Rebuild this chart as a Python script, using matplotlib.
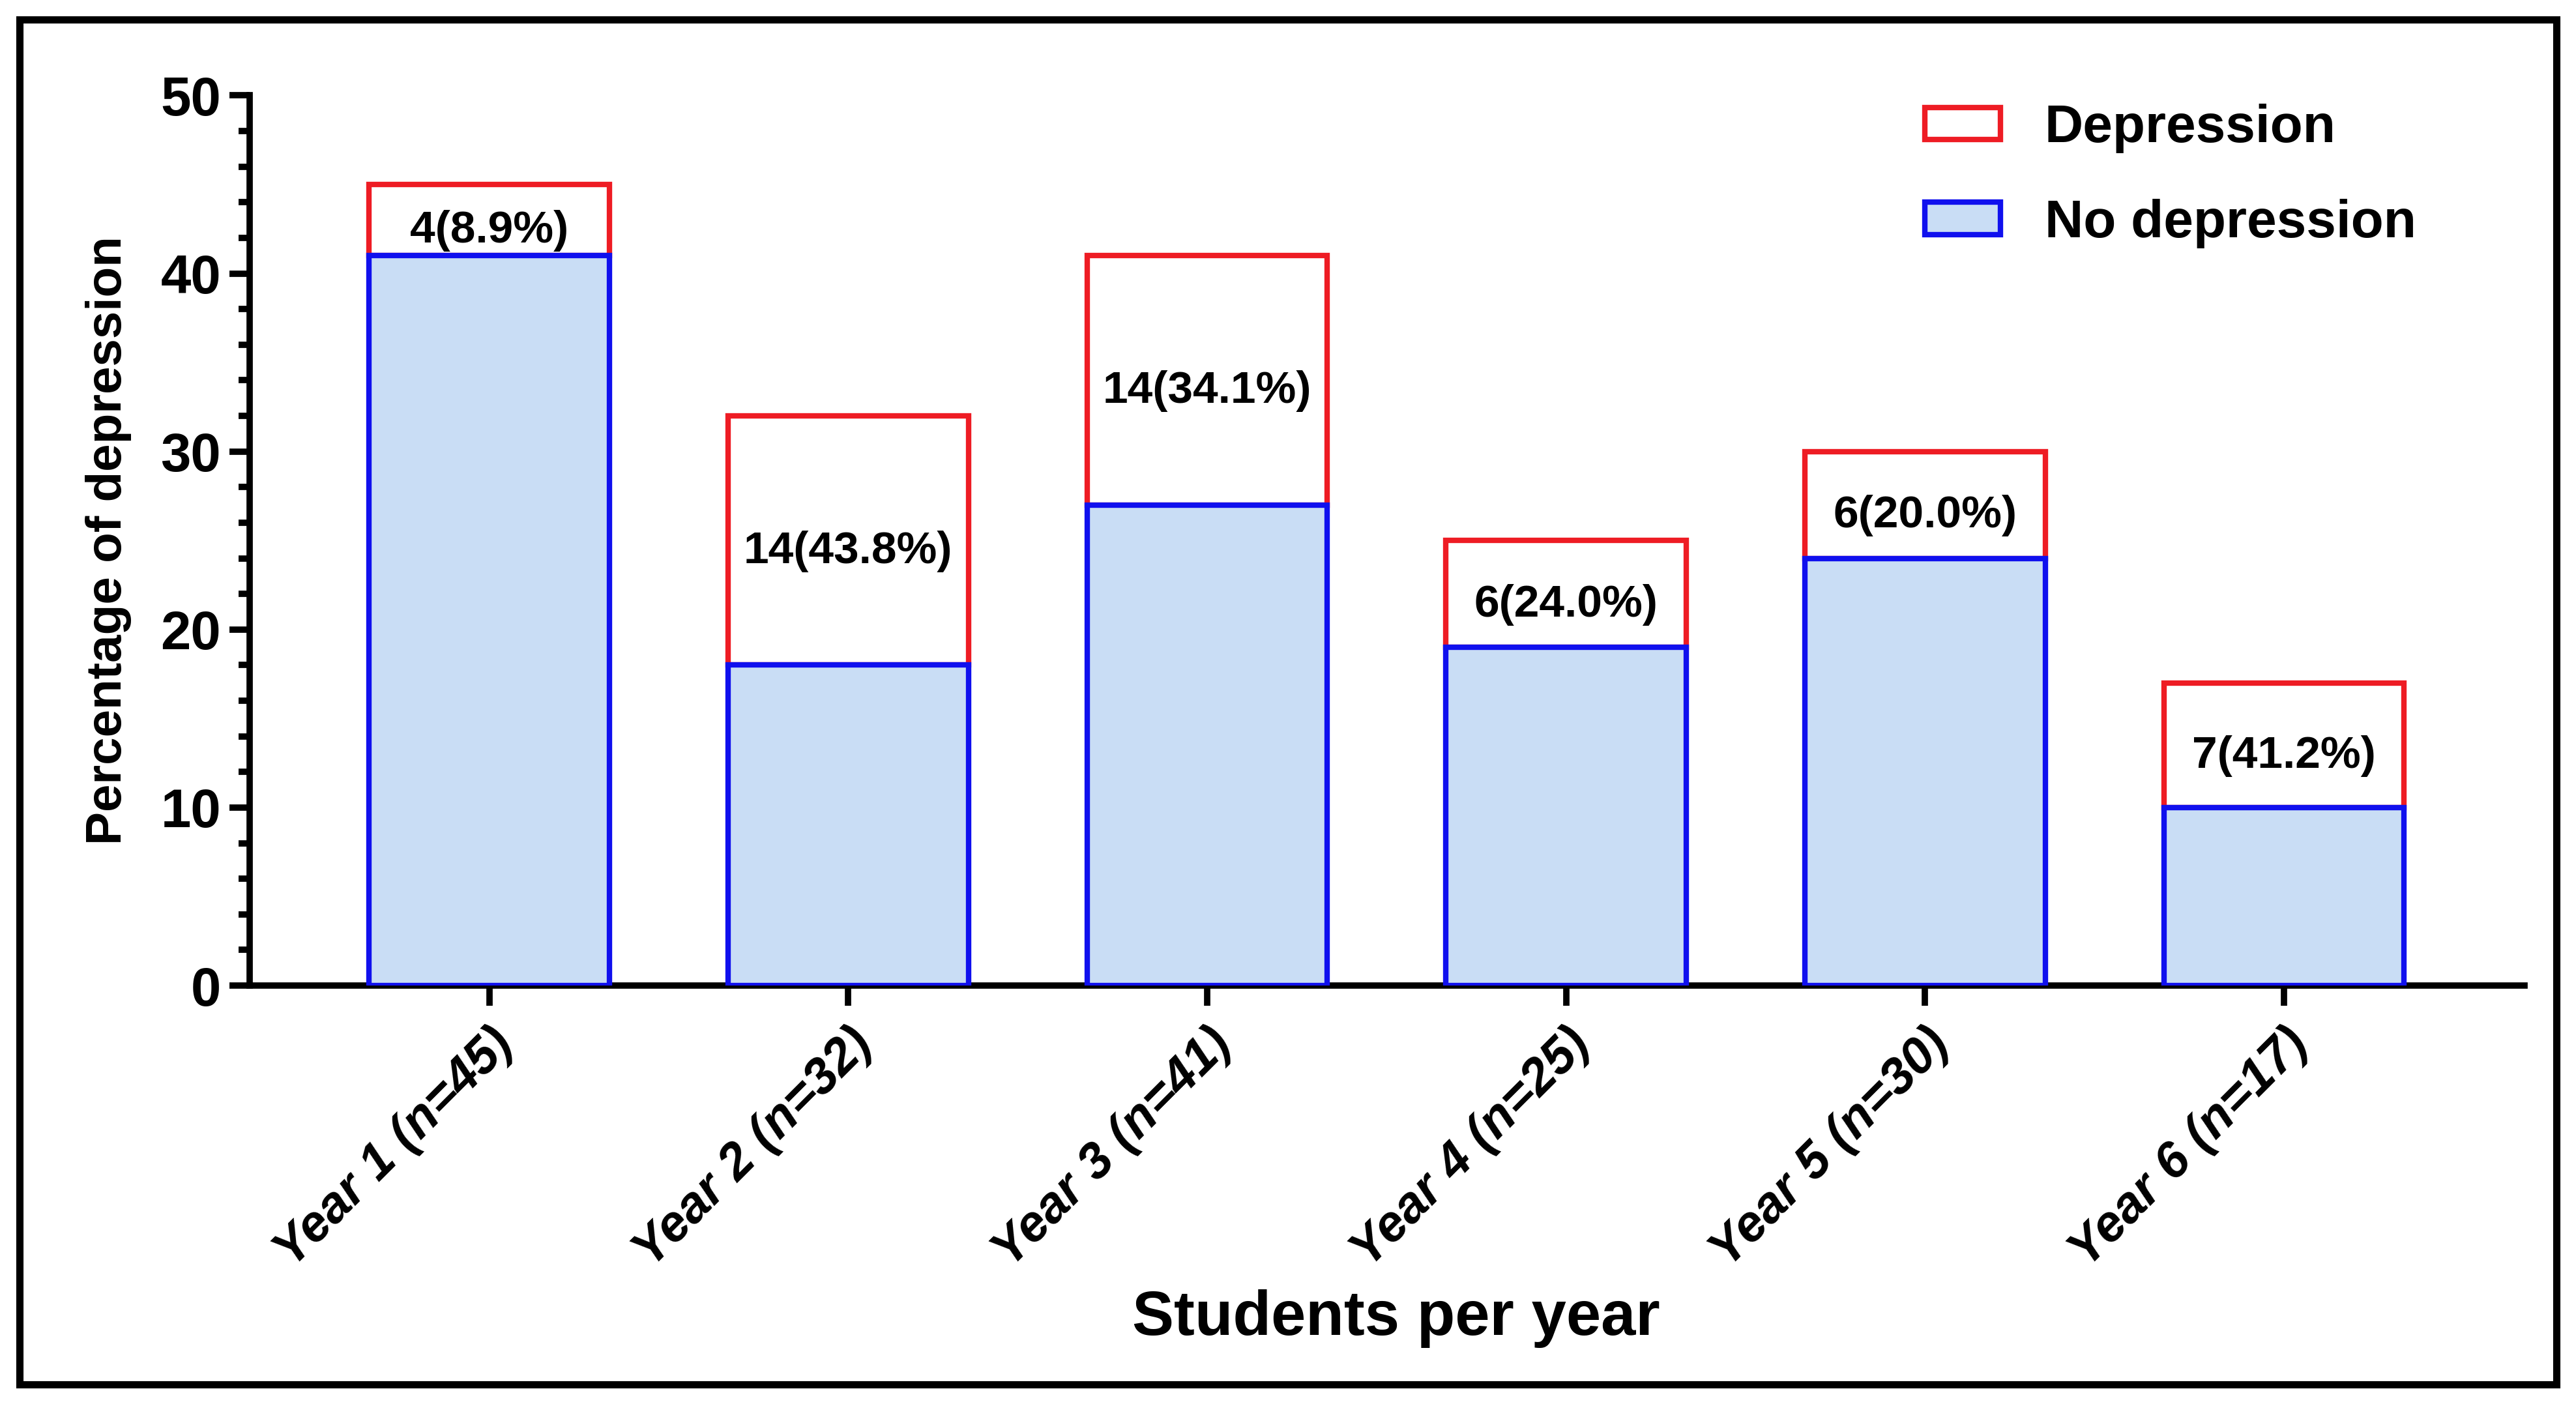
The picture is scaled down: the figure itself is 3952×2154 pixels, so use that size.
import matplotlib
matplotlib.use("Agg")
import matplotlib.pyplot as plt
from matplotlib.patches import Rectangle, Patch
from matplotlib.ticker import MultipleLocator
import numpy as np

categories = ["Year 1 (n=45)", "Year 2 (n=32)", "Year 3 (n=41)",
              "Year 4 (n=25)", "Year 5 (n=30)", "Year 6 (n=17)"]
no_depression = [41, 18, 27, 19, 24, 10]
depression = [4, 14, 14, 6, 6, 7]
bar_labels = ["4(8.9%)", "14(43.8%)", "14(34.1%)", "6(24.0%)", "6(20.0%)", "7(41.2%)"]

plt.rcParams['font.family'] = ['Liberation Sans', 'DejaVu Sans']
plt.rcParams['font.weight'] = 'bold'

W, H = 3952, 2154
fig = plt.figure(figsize=(W / 100, H / 100), dpi=100)
ax = fig.add_axes([0.097, 0.298, 0.883, 0.634])

red = '#ee1c24'
blue = '#1010ee'
fill = '#c9ddf5'
x = np.arange(len(categories))
bw = 0.67
ax.bar(x, depression, bottom=no_depression, width=bw, color='white',
       edgecolor=red, linewidth=6, zorder=2, label='Depression')
ax.bar(x, no_depression, width=bw, color=fill, edgecolor=blue,
       linewidth=6, zorder=3, label='No depression')

for xi, nd, d, lab in zip(x, no_depression, depression, bar_labels):
    ax.text(xi, nd + d / 2 - 0.6, lab, ha='center', va='center', fontsize=50,
            fontweight='bold', zorder=4)

ax.set_xlim(-0.667, 5.67)
ax.set_ylim(0, 50)
ax.yaxis.set_major_locator(MultipleLocator(10))
ax.yaxis.set_minor_locator(MultipleLocator(2))
ax.set_xticks(x)
ax.set_xticklabels(categories, rotation=45, ha='right', rotation_mode='anchor',
                   fontsize=56, fontweight='bold', fontstyle='italic')
for lbl in ax.get_yticklabels():
    lbl.set_fontsize(60)
    lbl.set_fontweight('bold')

for s in ['top', 'right']:
    ax.spines[s].set_visible(False)
for s in ['left', 'bottom']:
    ax.spines[s].set_linewidth(7)
ax.spines['left'].set_bounds(0, 50)
ax.tick_params(axis='both', which='major', length=22, width=7, pad=10)
ax.tick_params(axis='y', which='minor', length=12, width=7)
ax.tick_params(axis='x', pad=16)

ax.set_ylabel("Percentage of depression", fontsize=55, fontweight='bold')
ax.yaxis.set_label_coords(-0.052, 0.5)
fig.text(0.542, 0.061, "Students per year", ha='center', va='center',
         fontsize=69, fontweight='bold')

handles = [Patch(facecolor='white', edgecolor=red, linewidth=6),
           Patch(facecolor=fill, edgecolor=blue, linewidth=6)]
leg = fig.legend(handles, ['Depression', 'No depression'], loc='upper left',
                 bbox_to_anchor=(0.7327, 0.9526), frameon=False, fontsize=59,
                 handlelength=1.42, handleheight=0.55, handletextpad=0.82,
                 labelspacing=0.85, borderpad=0.2)
for t in leg.get_texts():
    t.set_fontweight('bold')

frame = Rectangle((12 / 1568, 12 / 855), (1556 - 12) / 1568, (843 - 12) / 855,
                  transform=fig.transFigure, fill=False, edgecolor='black',
                  linewidth=8, zorder=10)
fig.patches.append(frame)

fig.savefig("out.png", dpi=100, facecolor='white')
